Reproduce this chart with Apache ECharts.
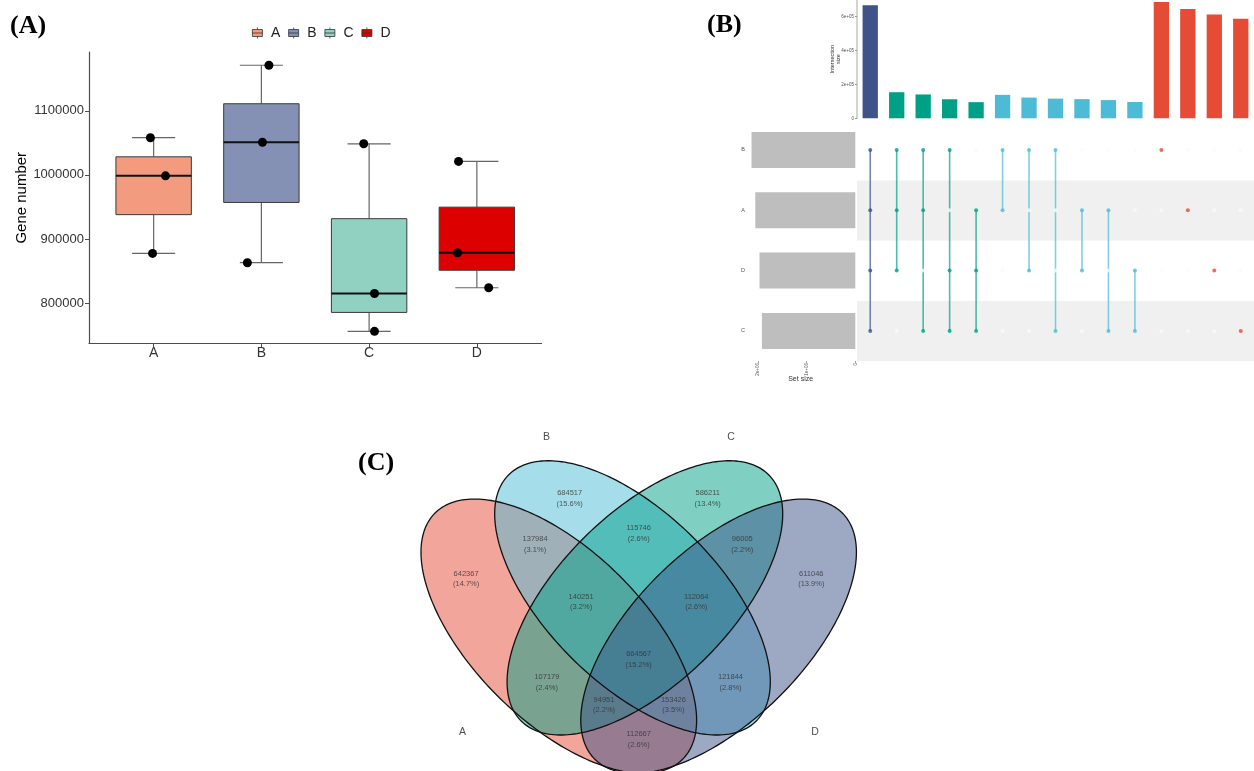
<!DOCTYPE html>
<html><head><meta charset="utf-8">
<script src="https://cdn.jsdelivr.net/npm/echarts@6/dist/echarts.min.js"></script>
<style>html,body{margin:0;padding:0;background:#fff}#c{width:1254px;height:771px}</style>
</head><body><div id="c"></div>
<script>
// ---------- Panel A data ----------
const groups = ['A','B','C','D'];
const groupColors = ['#F39B7F','#8491B4','#91D1C2','#DC0000'];
// [min, Q1, median, Q3, max]
const boxStats = [
  [877500, 938000, 998500, 1028200, 1058000],
  [863000, 957000, 1051000, 1111000, 1171000],
  [756000, 785500, 815000, 931700, 1048500],
  [824000, 851300, 878500, 949700, 1021000]
];
const pointValues = [
  [1058000, 998500, 877500],
  [1171000, 1051000, 863000],
  [1048500, 815000, 756000],
  [1021000, 878500, 824000]
];
const pointJitter = [
  [-0.03, 0.11, -0.01],
  [0.07, 0.01, -0.13],
  [-0.05, 0.05, 0.05],
  [-0.17, -0.18, 0.11]
];
const geneTicks = [800000, 900000, 1000000, 1100000];

// ---------- Venn / UpSet data ----------
const setNames = ['A','B','C','D'];
const vennRegions = ['A','B','C','D','AB','BC','CD','ABC','BCD','ABCD','AC','BD','ACD','ABD','AD'];
const vennCounts = [642367,684517,586211,611046,137984,115746,96005,140251,112064,664567,107179,121844,94951,153426,112667];
const vennPercents = ['14.7','15.6','13.4','13.9','3.1','2.6','2.2','3.2','2.6','15.2','2.4','2.8','2.2','3.5','2.6'];
const setSizes = [2053392, 2130399, 1916974, 1966570]; // A B C D
const upsetColumns = ['ABCD','ABD','ABC','BCD','ACD','AB','BD','BC','AD','AC','CD','B','A','D','C'];
const matrixRows = ['C','D','A','B']; // bottom to top
const upsetYTicks = [0, 200000, 400000, 600000];
const upsetYTickLabels = ['0','2e+05','4e+05','6e+05'];
const setSizeTicks = [0, 1000000, 2000000];
const setSizeTickLabels = ['0','1e+06','2e+06'];

// ---------- layout / style constants ----------
const degreeColors = {4:'#3C5488', 3:'#00A087', 2:'#4DBBD5', 1:'#E64B35'};
const vennFill = ['#E64B35','#4DBBD5','#00A087','#3C5488'];
// ellipse geometry in venn layout units: [cx, cy, semiMajor, semiMinor, angleDeg]
const vennEllipses = [
  [-79.9, -34.5, 175, 85.8, -45],
  [-6.2, 4.0, 175, 85.8, -45],
  [6.2, 4.0, 175, 85.8, 45],
  [79.9, -34.5, 175, 85.8, 45]
];
const vennLabelPos = {
  A:[-172.6,22.9], B:[-69,103.7], C:[69,103.7], D:[172.6,22.9],
  AB:[-103.6,57.5], BC:[0,68.9], CD:[103.6,57.5],
  ABC:[-57.6,0], BCD:[57.6,0], ABCD:[0,-57.8],
  AC:[-91.8,-80.8], BD:[91.8,-80.8], ACD:[-34.7,-103.8], ABD:[34.7,-103.8], AD:[0,-138.1]
};
const vennSetLabelPos = {A:[-176.3,-131.3], B:[-92.3,165.4], C:[92.3,165.4], D:[176.3,-131.3]};

const SANS = 'Liberation Sans';
const SERIF = 'Liberation Serif';

function renderBox(params, api) {
  const x = api.value(0);
  const p = [1,2,3,4,5].map(k => api.coord([x, api.value(k)]));
  const cx = p[0][0];
  const bw = api.size([0.7, 0])[0], cw = api.size([0.4, 0])[0];
  const ws = {stroke:'#666', lineWidth:1.2};
  return {type:'group', children:[
    {type:'line', shape:{x1:cx,y1:p[0][1],x2:cx,y2:p[1][1]}, style:ws},
    {type:'line', shape:{x1:cx,y1:p[3][1],x2:cx,y2:p[4][1]}, style:ws},
    {type:'line', shape:{x1:cx-cw/2,y1:p[0][1],x2:cx+cw/2,y2:p[0][1]}, style:ws},
    {type:'line', shape:{x1:cx-cw/2,y1:p[4][1],x2:cx+cw/2,y2:p[4][1]}, style:ws},
    {type:'rect', shape:{x:cx-bw/2, y:p[3][1], width:bw, height:p[1][1]-p[3][1]},
      style:{fill:api.visual('color'), stroke:'#3a3a3a', lineWidth:1}},
    {type:'line', shape:{x1:cx-bw/2,y1:p[2][1],x2:cx+bw/2,y2:p[2][1]}, style:{stroke:'#111', lineWidth:2}}
  ]};
}

function ellipsePoly(api, e) {
  const [cx, cy, a, b, ang] = e;
  const th = ang * Math.PI / 180, pts = [];
  for (let i = 0; i < 240; i++) {
    const t = i / 240 * 2 * Math.PI;
    const x = cx + a*Math.cos(t)*Math.cos(th) - b*Math.sin(t)*Math.sin(th);
    const y = cy + a*Math.cos(t)*Math.sin(th) + b*Math.sin(t)*Math.cos(th);
    pts.push(api.coord([x, y]));
  }
  return pts;
}

const boxSeries = groups.map((g, i) => ({
  name: g, type: 'custom', xAxisIndex: 0, yAxisIndex: 0,
  itemStyle: {color: groupColors[i]},
  data: [[i + 1].concat(boxStats[i])],
  renderItem: renderBox, z: 2
}));

const pointData = [];
pointValues.forEach((vals, i) => vals.forEach((v, j) => pointData.push([i + 1 + pointJitter[i][j], v])));

const barData = upsetColumns.map(k => ({
  value: vennCounts[vennRegions.indexOf(k)], itemStyle: {color: degreeColors[k.length]}
}));
const setBarData = matrixRows.map(s => setSizes[setNames.indexOf(s)]);
const dotData = [];
const segData = [];
upsetColumns.forEach((k, c) => {
  const rows = [];
  matrixRows.forEach((s, r) => {
    const m = k.indexOf(s) >= 0;
    if (m) rows.push(r);
    dotData.push({value:[c, r], itemStyle:{color: m ? degreeColors[k.length] : '#FAFAFA'}});
  });
  if (rows.length > 1) segData.push({value:[c, Math.min(...rows), Math.max(...rows)], itemStyle:{color: degreeColors[k.length]}});
});

const vennLabelData = vennRegions.map((r, i) => ({
  value: vennLabelPos[r],
  label: {formatter: vennCounts[i] + '\n(' + vennPercents[i] + '%)'}
}));
const vennSetData = setNames.map(s => ({name: s, value: vennSetLabelPos[s]}));

const tinyAxis = {fontSize: 4.5, color: '#555', fontFamily: SANS};

const option = {
  animation: false,
  backgroundColor: '#fff',
  title: [
    {text:'(A)', left:10, top:13, padding:0, textStyle:{fontFamily:SERIF, fontWeight:'bold', fontSize:26, color:'#000'}},
    {text:'(B)', left:707, top:12, padding:0, textStyle:{fontFamily:SERIF, fontWeight:'bold', fontSize:26, color:'#000'}},
    {text:'(C)', left:358, top:450, padding:0, textStyle:{fontFamily:SERIF, fontWeight:'bold', fontSize:26, color:'#000'}}
  ],
  legend: {
    left: 252, top: 26, padding: 0, itemWidth: 11, itemHeight: 11, itemGap: 8,
    icon: 'path://M5.5,0L5.5,2M0.5,2L10.5,2L10.5,9L0.5,9ZM0.5,5.5L10.5,5.5M5.5,9L5.5,11',
    itemStyle: {borderColor: '#333', borderWidth: 0.8},
    textStyle: {fontSize: 14, color: '#222', fontFamily: SANS, padding: [0,0,0,3]},
    data: groups, selectedMode: false
  },
  grid: [
    {left: 89, top: 52, width: 452.5, height: 291.5},
    {left: 857, top: 0, width: 398, height: 118.3},
    {left: 857, top: 119.8, width: 398, height: 241.3},
    {left: 746, top: 119.8, width: 109.3, height: 241.3},
    {left: 398.7, top: 432.7, width: 480, height: 340}
  ],
  xAxis: [
    {type:'value', gridIndex:0, min:0.4, max:4.6,
      axisLine:{lineStyle:{color:'#4d4d4d', width:1.2}},
      axisTick:{show:true, length:4, lineStyle:{color:'#4d4d4d'}, customValues:[1,2,3,4]},
      axisLabel:{customValues:[1,2,3,4], formatter: v => groups[Math.round(v) - 1], fontSize:14, color:'#333', fontFamily:SANS, margin:3},
      splitLine:{show:false}},
    {type:'category', gridIndex:1, data: upsetColumns, show:false},
    {type:'category', gridIndex:2, data: upsetColumns, show:false},
    {type:'value', gridIndex:3, inverse:true, min:0, max:2244000,
      name:'Set size', nameLocation:'middle', nameGap:14, nameMoveOverlap:false,
      nameTextStyle:{fontSize:7, color:'#333', fontFamily:SANS},
      axisLine:{lineStyle:{color:'#999', width:1}},
      axisTick:{show:true, length:2, lineStyle:{color:'#999'}, customValues:setSizeTicks},
      axisLabel:Object.assign({customValues:setSizeTicks, rotate:90, margin:2,
        formatter: v => setSizeTickLabels[setSizeTicks.indexOf(v)]}, tinyAxis),
      splitLine:{show:false}},
    {type:'value', gridIndex:4, min:-240, max:240, show:false}
  ],
  yAxis: [
    {type:'value', gridIndex:0, min:737000, max:1191700,
      name:'Gene number', nameLocation:'middle', nameGap:51, nameRotate:90,
      nameTextStyle:{fontSize:15, color:'#000', fontFamily:SANS},
      axisLine:{show:true, lineStyle:{color:'#4d4d4d', width:1.2}},
      axisTick:{show:true, length:4, lineStyle:{color:'#4d4d4d'}, customValues:geneTicks},
      axisLabel:{customValues:geneTicks, formatter: v => String(v), fontSize:13, color:'#333', fontFamily:SANS, margin:5},
      splitLine:{show:false}},
    {type:'value', gridIndex:1, min:0, max:695900,
      name:'Intersection\nsize', nameLocation:'middle', nameGap:16, nameRotate:90, nameMoveOverlap:false,
      nameTextStyle:{fontSize:5.5, color:'#333', fontFamily:SANS, lineHeight:5.5},
      axisLine:{show:true, lineStyle:{color:'#C8C8C8', width:1.6}},
      axisTick:{show:true, length:2, lineStyle:{color:'#999'}, customValues:upsetYTicks},
      axisLabel:Object.assign({customValues:upsetYTicks, margin:3,
        formatter: v => upsetYTickLabels[upsetYTicks.indexOf(v)]}, tinyAxis),
      splitLine:{show:false}},
    {type:'category', gridIndex:2, data: matrixRows,
      axisLine:{show:false}, axisTick:{show:false}, axisLabel:{show:false},
      splitLine:{show:false},
      splitArea:{show:true, areaStyle:{color:['#F0F0F0','#FFFFFF']}}},
    {type:'category', gridIndex:3, data: matrixRows,
      axisLine:{show:false}, axisTick:{show:false},
      axisLabel:{fontSize:5.5, color:'#555', fontFamily:SANS, margin:1}},
    {type:'value', gridIndex:4, min:-170, max:170, show:false}
  ],
  series: boxSeries.concat([
    {type:'scatter', xAxisIndex:0, yAxisIndex:0, data: pointData, symbolSize: 9,
      itemStyle:{color:'#000', opacity:1}, z: 5, silent:true},
    {type:'bar', xAxisIndex:1, yAxisIndex:1, data: barData, barWidth: 15.3, silent:true},
    {type:'bar', xAxisIndex:3, yAxisIndex:3, data: setBarData, barWidth: 36,
      itemStyle:{color:'#BEBEBE'}, silent:true},
    {type:'custom', xAxisIndex:2, yAxisIndex:2, data: segData, z: 2, silent:true,
      renderItem(params, api) {
        const c = api.value(0);
        const a = api.coord([c, api.value(1)]), b = api.coord([c, api.value(2)]);
        return {type:'line', shape:{x1:a[0], y1:a[1], x2:b[0], y2:b[1]},
          style:{stroke: api.visual('color'), lineWidth: 1.6, opacity: 0.7}};
      }},
    {type:'scatter', xAxisIndex:2, yAxisIndex:2, data: dotData, symbolSize: 4, z: 3, silent:true},
    {type:'custom', xAxisIndex:4, yAxisIndex:4, data: setNames.map((s, i) => [i]), silent:true, z: 1,
      renderItem(params, api) {
        const i = api.value(0);
        return {type:'polygon', shape:{points: ellipsePoly(api, vennEllipses[i])},
          style:{fill: vennFill[i], opacity: 0.5}};
      }},
    {type:'custom', xAxisIndex:4, yAxisIndex:4, data: setNames.map((s, i) => [i]), silent:true, z: 2,
      renderItem(params, api) {
        const i = api.value(0);
        return {type:'polygon', shape:{points: ellipsePoly(api, vennEllipses[i])},
          style:{fill: 'none', stroke:'#111', lineWidth: 1.3}};
      }},
    {type:'scatter', xAxisIndex:4, yAxisIndex:4, data: vennLabelData, symbolSize: 0, z: 4, silent:true,
      label:{show:true, position:'inside', fontSize:7.5, lineHeight:10.5, color:'#333', fontFamily:SANS, align:'center'}},
    {type:'scatter', xAxisIndex:4, yAxisIndex:4, data: vennSetData, symbolSize: 0, z: 4, silent:true,
      label:{show:true, position:'inside', formatter:'{b}', fontSize:10.5, color:'#222', fontFamily:SANS}}
  ])
};
const chart = echarts.init(document.getElementById('c'));
chart.setOption(option);
</script>
</body></html>
